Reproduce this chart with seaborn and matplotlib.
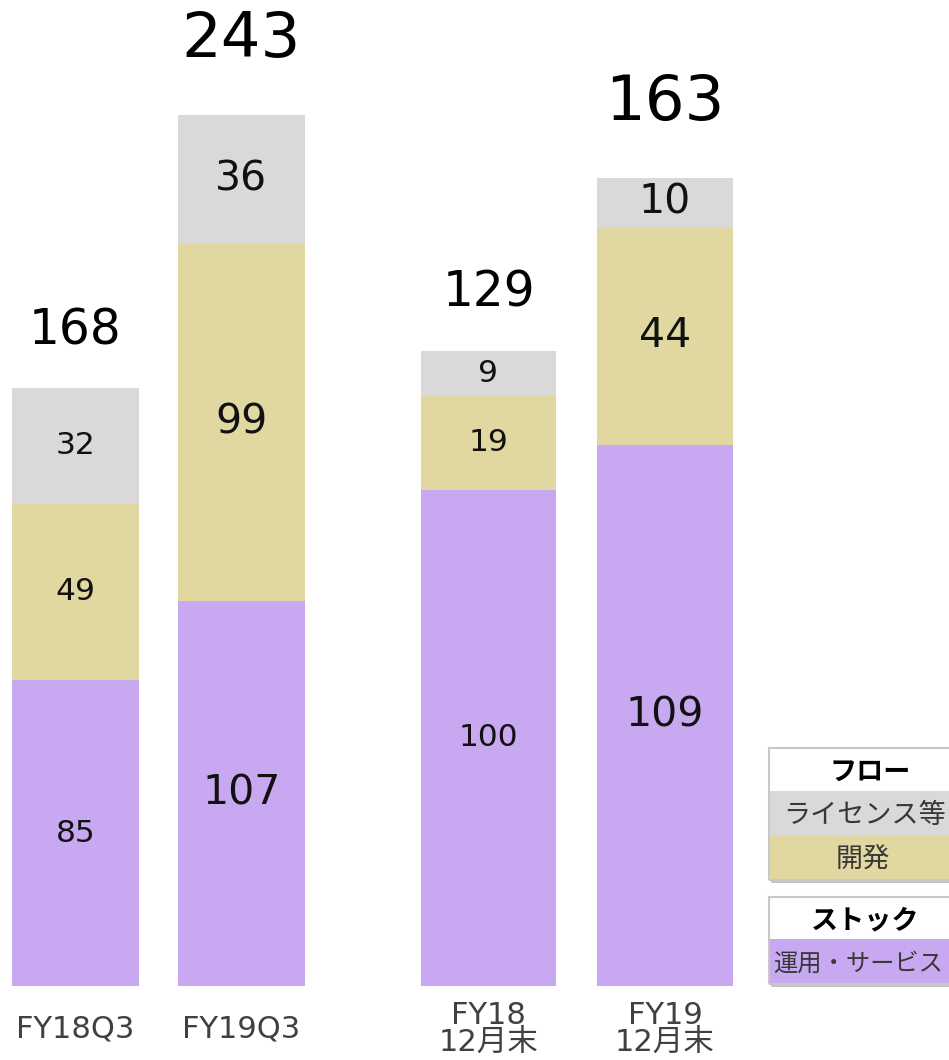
import matplotlib.pyplot as plt
import matplotlib.patches as mpatches
import pandas as pd
import seaborn as sns

QUARTERS = ['FY18Q3', 'FY19Q3']
OPS_Q = [85, 107]
DEV_Q = [49, 99]
LIC_Q = [32, 36]
TOTAL_Q = [168, 243]

YEAR_ENDS = ['FY18\n12月末', 'FY19\n12月末']
OPS_Y = [100, 109]
DEV_Y = [19, 44]
LIC_Y = [9, 10]
TOTAL_Y = [129, 163]

FLOW_TITLE = 'フロー'
FLOW_LABELS = ['ライセンス等', '開発']
STOCK_TITLE = 'ストック'
STOCK_LABELS = ['運用・サービス']

PURPLE = '#C8A9F1'
TAN = '#E1D8A1'
GRAY = '#D9D9D9'
JP = ['Noto Sans CJK JP', 'DejaVu Sans']
LATIN = ['DejaVu Sans', 'Noto Sans CJK JP']

W, H = 949, 1060
BAR_W = 0.765
SEG_SIZE = [22.5, 29.5]
TOTAL_SIZE = [35, 45]
TOTAL_OFF = [42, 54]


def figRect(left, top, right, bottom):
    return [left / W, 1 - bottom / H, (right - left) / W, (bottom - top) / H]


def plotGroup(ax, cats, ops, dev, lic, totals, pxPerUnit, pxPerCat, firstCenter, left, right):
    df = pd.DataFrame({'CAT': cats, 'OPS': ops, 'DEV': dev, 'LIC': lic})
    df['C1'] = df['OPS']
    df['C2'] = df['OPS'] + df['DEV']
    df['C3'] = df['C2'] + df['LIC']

    # stack by overdrawing cumulative sums
    for col, color in [('C3', GRAY), ('C2', TAN), ('C1', PURPLE)]:
        sns.barplot(data=df, x='CAT', y=col, order=cats, color=color, saturation=1,
                    width=BAR_W, errorbar=None, linewidth=0, ax=ax)

    for i, row in df.iterrows():
        bottom = 0
        for col in ['OPS', 'DEV', 'LIC']:
            val = row[col]
            ax.text(i, bottom + val / 2, str(val), ha='center', va='center',
                    fontsize=SEG_SIZE[i], color='#111111')
            bottom += val
        ax.annotate(str(totals[i]), (i, row['C3']), xytext=(0, TOTAL_OFF[i]),
                    textcoords='offset points', ha='center', va='center',
                    fontsize=TOTAL_SIZE[i], color='#000000')

    xmin = -(firstCenter - left) / pxPerCat
    ax.set_xlim(xmin, xmin + (right - left) / pxPerCat)
    ax.set_ylim(0, 986 / pxPerUnit)
    ax.set_xticks(range(len(cats)))
    ax.set_xticklabels(cats, fontsize=22, color='#404040', family=LATIN, linespacing=0.92)
    for lbl in ax.get_xticklabels():
        lbl.set_va('center')
    ax.tick_params(axis='x', length=0, pad=31)
    ax.set_yticks([])
    ax.set_xlabel('')
    ax.set_ylabel('')
    ax.set_facecolor('none')
    sns.despine(ax=ax, left=True, bottom=True)


def drawLegendBox(fig, top, title, labels, colors, rowHeights, centers, sizes):
    left, right = 769, 965
    bottom = top + sum(rowHeights)
    s = figRect(left + 2, top + 2, right + 2, bottom + 3)
    fig.patches.append(mpatches.Rectangle((s[0], s[1]), s[2], s[3], transform=fig.transFigure,
                                          facecolor='#C4C4C4', edgecolor='none', zorder=1))
    y = top
    fills = ['white'] + colors
    texts = [title] + labels
    for k, (fill, txt, h) in enumerate(zip(fills, texts, rowHeights)):
        r = figRect(left, y, right, y + h)
        fig.patches.append(mpatches.Rectangle((r[0], r[1]), r[2], r[3], transform=fig.transFigure,
                                              facecolor=fill, edgecolor='none', zorder=2))
        fig.text(centers[k] / W, 1 - (y + h / 2 + 2) / H, txt, ha='center', va='center',
                 fontsize=sizes[k], family=JP, fontweight='bold' if k == 0 else 'normal',
                 color='#000000' if k == 0 else '#383838', zorder=3)
        y += h
    r = figRect(left, top, right, bottom)
    fig.patches.append(mpatches.Rectangle((r[0], r[1]), r[2], r[3], transform=fig.transFigure,
                                          facecolor='none', edgecolor='#C8C8C8', linewidth=1.5, zorder=3))


sns.set_theme(style='white')
plt.rcParams['font.family'] = LATIN

fig = plt.figure(figsize=(W / 100, H / 100), dpi=100)
fig.patch.set_facecolor('white')

ax1 = fig.add_axes(figRect(0, 0, 330, 986))
plotGroup(ax1, QUARTERS, OPS_Q, DEV_Q, LIC_Q, TOTAL_Q, 3.6, 166, 75.5, 0, 330)

ax2 = fig.add_axes(figRect(345, 0, 765, 986))
plotGroup(ax2, YEAR_ENDS, OPS_Y, DEV_Y, LIC_Y, TOTAL_Y, 4.96, 176.5, 488.5, 345, 765)

drawLegendBox(fig, 748, FLOW_TITLE, FLOW_LABELS, [GRAY, TAN], [43, 45, 44],
              [870, 865, 863], [19.5, 19.5, 19.5])
drawLegendBox(fig, 897, STOCK_TITLE, STOCK_LABELS, [PURPLE], [42, 45],
              [865, 858], [19.5, 17.5])

plt.savefig('out.png', dpi=100)
